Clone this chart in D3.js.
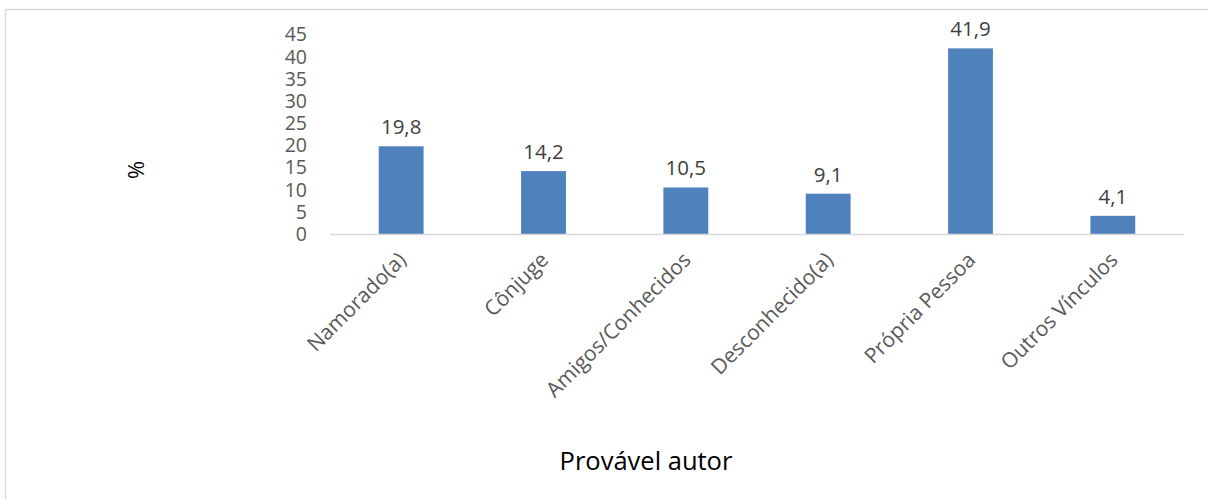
<!DOCTYPE html>
<html><head><meta charset="utf-8">
<script src="https://cdn.jsdelivr.net/npm/d3@7"></script>
<style>body{margin:0;background:#fff;}svg{display:block;font-family:"Open Sans",sans-serif;}</style>
</head><body><svg id="c" width="1208" height="499"></svg>
<script>
const categories = ["Namorado(a)","Cônjuge","Amigos/Conhecidos","Desconhecido(a)","Própria Pessoa","Outros Vínculos"];
const values = [19.8,14.2,10.5,9.1,41.9,4.1];
const valueLabels = ["19,8","14,2","10,5","9,1","41,9","4,1"];
const yTicks = [0,5,10,15,20,25,30,35,40,45];
const xTitle = "Provável autor";
const yTitle = "%";

const svg = d3.select("#c");
svg.append("rect").attr("x",5.5).attr("y",9.5).attr("width",1220).attr("height",510)
  .attr("fill","#fff").attr("stroke","#d9d9d9").attr("stroke-width",1.5);

const left=330, right=1184, y0=234;
const x = d3.scaleBand().domain(categories).range([left,right]).paddingInner(0.685).paddingOuter(0.3425);
const y = d3.scaleLinear().domain([0,45]).range([y0, y0-45*4.43]);

// y tick labels
svg.append("g").selectAll("text").data(yTicks).join("text")
  .attr("x",307).attr("y",d=>y(d)).attr("dy","0.35em").attr("text-anchor","end")
  .attr("font-size",19.5).attr("fill","#595959").text(d=>d);

// bars
svg.append("g").selectAll("rect").data(values).join("rect")
  .attr("x",(d,i)=>x(categories[i])).attr("width",x.bandwidth())
  .attr("y",d=>y(d)).attr("height",d=>y0-y(d)).attr("fill","#4F81BD");

// axis line
svg.append("line").attr("x1",left).attr("x2",right).attr("y1",y0+0.5).attr("y2",y0+0.5)
  .attr("stroke","#d9d9d9").attr("stroke-width",1.5);

// value labels
svg.append("g").selectAll("text").data(values).join("text")
  .attr("x",(d,i)=>x(categories[i])+x.bandwidth()/2).attr("y",d=>y(d)-12)
  .attr("text-anchor","middle").attr("font-size",20.5).attr("fill","#404040")
  .text((d,i)=>valueLabels[i]);

// category labels
svg.append("g").selectAll("text").data(categories).join("text")
  .attr("transform",d=>`translate(${x(d)+x.bandwidth()/2+1},${y0+22}) rotate(-45)`)
  .attr("text-anchor","end").attr("dy","0.35em").attr("font-size",21).attr("fill","#595959")
  .text(d=>d);

// axis titles
svg.append("text").attr("x",646).attr("y",461).attr("dy","0.35em").attr("text-anchor","middle")
  .attr("font-size",25.5).attr("fill","#000").text(xTitle);
svg.append("text").attr("transform","translate(136,170) rotate(-90)").attr("dy","0.35em")
  .attr("text-anchor","middle").attr("font-size",22).attr("fill","#000").text(yTitle);
</script></body></html>
